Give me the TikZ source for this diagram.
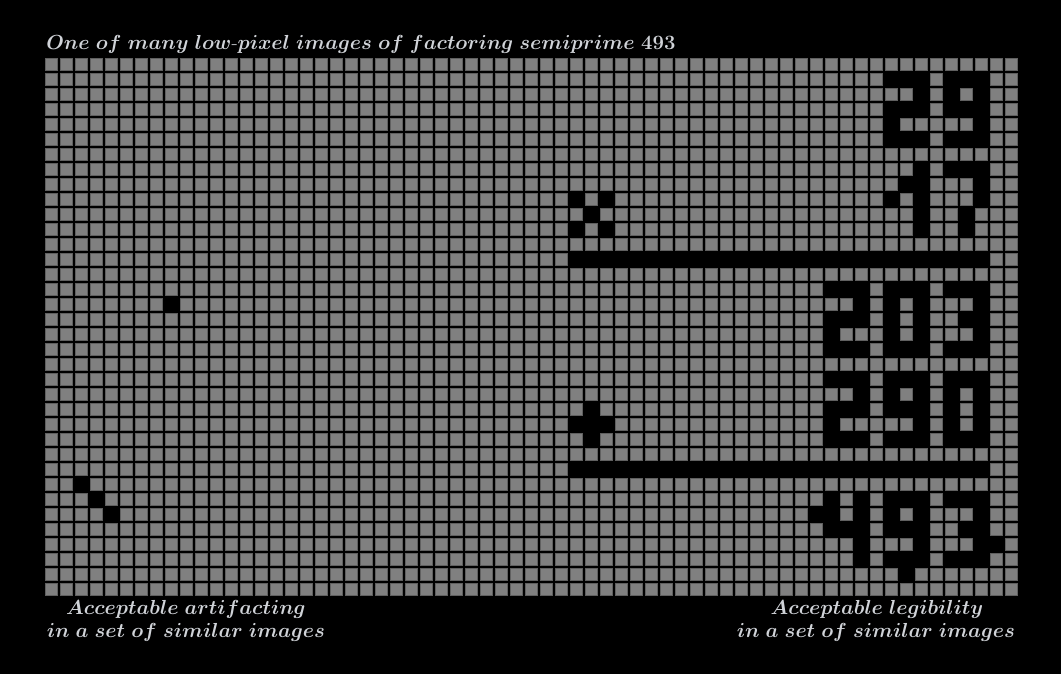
\RequirePackage{fix-cm}
\documentclass[tikz,border=0pt]{standalone}
\usepackage{amsmath}
\definecolor{cellgray}{RGB}{128,128,128}
\definecolor{edgegray}{RGB}{96,96,96}
\definecolor{txtgray}{RGB}{208,211,216}
\begin{document}
\begin{tikzpicture}[x=0.75pt,y=-0.75pt,
  lbl/.style={text=txtgray,font=\fontsize{15.25}{18}\selectfont\boldmath,inner sep=0pt,align=center},
  pix/.style={fill=black}]
\useasboundingbox (0,0) rectangle (1061,674);
\fill[black] (0,0) rectangle (1061,674);
% grid
\fill[cellgray] (44,57) rectangle (1019,597);
\begin{scope}
\clip (45,58) rectangle (1018,596);
\foreach \k in {0,...,65}{
  \draw[edgegray,line width=2.3pt] ({44+15*\k},57) -- ({44+15*\k},597);}
\foreach \k in {0,...,36}{
  \draw[edgegray,line width=2.3pt] (44,{57+15*\k}) -- (1019,{57+15*\k});}
\end{scope}
\foreach \k in {0,...,65}{
  \draw[black,line width=1.3pt] ({44+15*\k},57) -- ({44+15*\k},597);}
\foreach \k in {0,...,36}{
  \draw[black,line width=1.3pt] (44,{57+15*\k}) -- (1019,{57+15*\k});}
% black pixels
\foreach \cc/\rr in {
 56/1,57/1,58/1,60/1,61/1,62/1,
 58/2,60/2,62/2,
 56/3,57/3,58/3,60/3,61/3,62/3,
 56/4,62/4,
 56/5,57/5,58/5,60/5,61/5,62/5,
 58/7,60/7,61/7,62/7,
 57/8,58/8,62/8,
 56/9,58/9,62/9,35/9,37/9,
 58/10,61/10,36/10,
 58/11,61/11,35/11,37/11,
 52/15,53/15,54/15,56/15,57/15,58/15,60/15,61/15,62/15,
 54/16,56/16,58/16,62/16,8/16,
 52/17,53/17,54/17,56/17,58/17,61/17,62/17,
 52/18,56/18,58/18,62/18,
 52/19,53/19,54/19,56/19,57/19,58/19,60/19,61/19,62/19,
 52/21,53/21,54/21,56/21,57/21,58/21,60/21,61/21,62/21,
 54/22,56/22,58/22,60/22,62/22,
 52/23,53/23,54/23,56/23,57/23,58/23,60/23,62/23,36/23,
 52/24,58/24,60/24,62/24,35/24,36/24,37/24,
 52/25,53/25,54/25,56/25,57/25,58/25,60/25,61/25,62/25,36/25,
 2/28,
 52/29,54/29,56/29,57/29,58/29,60/29,61/29,62/29,3/29,
 51/30,52/30,54/30,56/30,58/30,62/30,4/30,
 52/31,53/31,54/31,56/31,57/31,58/31,61/31,62/31,
 54/32,58/32,62/32,63/32,
 54/33,56/33,57/33,58/33,60/33,61/33,62/33,
 57/34}
 {\fill[pix] ({44+15*\cc},{57+15*\rr}) rectangle ({59+15*\cc},{72+15*\rr});}
% bars
\fill[pix] (569,252) rectangle (989,267);
\fill[pix] (569,462) rectangle (989,477);
% texts
\node[lbl,anchor=base west] (title) at (46,50) {$One\ of\ many\ low$-$pixel\ images\ of\ factoring\ semiprime\ 493$};
\node[lbl,anchor=base] (left1) at (186,614) {$Acceptable\ artifacting$};
\node[lbl,anchor=base] (left2) at (186,637) {$in\ a\ set\ of\ similar\ images$};
\node[lbl,anchor=base] (right1) at (877,614) {$Acceptable\ legibility$};
\node[lbl,anchor=base] (right2) at (876,637) {$in\ a\ set\ of\ similar\ images$};
\end{tikzpicture}
\end{document}
